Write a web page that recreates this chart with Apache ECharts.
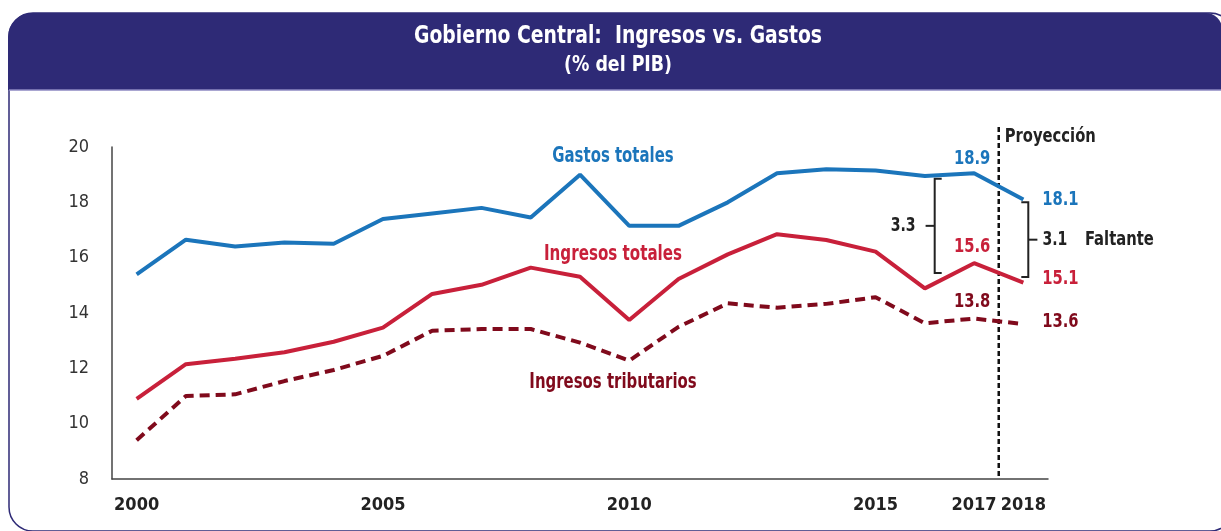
<!DOCTYPE html>
<html>
<head>
<meta charset="utf-8">
<style>
    html, body{
        margin: 0;
        padding: 0;
        background: #fff;
    }
    #chart{
        width: 1221px;
        height: 531px;
    }
</style>
<script src="https://cdn.jsdelivr.net/npm/echarts@6/dist/echarts.min.js"></script>
</head>
<body>
<div id="chart"></div>
<script>
    //数据
    var years = ['2000','2001','2002','2003','2004','2005','2006','2007','2008','2009',
                 '2010','2011','2012','2013','2014','2015','2016','2017','2018'];
    var shownYears = ['2000','2005','2010','2015','2017','2018'];
    var gastos = [15.4, 16.65, 16.4, 16.55, 16.5, 17.4, 17.6, 17.8, 17.45, 19.0,
                  17.15, 17.15, 18.0, 19.05, 19.2, 19.15, 18.95, 19.05, 18.1];
    var ingresos = [10.9, 12.15, 12.35, 12.58, 12.96, 13.47, 14.69, 15.02, 15.64, 15.31,
                    13.75, 15.23, 16.12, 16.85, 16.64, 16.22, 14.89, 15.8, 15.1];
    var tributarios = [9.4, 11.0, 11.06, 11.54, 11.94, 12.45, 13.36, 13.42, 13.42, 12.93,
                       12.28, 13.5, 14.35, 14.19, 14.33, 14.57, 13.63, 13.8, 13.6];
    // etiquetas 2017 / 2018
    var gastosLabels = ['18.9', '18.1'];
    var ingresosLabels = ['15.6', '15.1'];
    var tributariosLabels = ['13.8', '13.6'];
    // brechas: [indice, arriba, abajo, texto]
    var gapLeft = [16.2, 18.85, 15.45, '3.3'];
    var gapRight = [18.1, 18.0, 15.3, '3.1'];

    var blue = '#1B75BB';
    var red = '#C8203A';
    var darkRed = '#800A1C';
    var navy = '#2E2A76';
    var font = '"DejaVu Sans Condensed", "DejaVu Sans", sans-serif';

    var mychart = echarts.init(document.getElementById('chart'), null, {renderer: 'canvas'});
    var option = {
        backgroundColor: '#fff',
        animation: false,
        grid: {left: 112, right: 173, top: 147, bottom: 52},
        xAxis: {
            type: 'category',
            data: years,
            boundaryGap: true,
            axisLine: {lineStyle: {color: '#444', width: 1.5}},
            axisTick: {show: false},
            axisLabel: {
                interval: 0,
                margin: 17,
                fontFamily: font, fontWeight: 'bold', fontSize: 18, color: '#222',
                formatter: function (v) {
                    return shownYears.indexOf(v) >= 0 ? v : '';
                }
            }
        },
        yAxis: {
            type: 'value',
            min: 8, max: 20, interval: 2,
            axisLine: {show: true, lineStyle: {color: '#444', width: 1.5}},
            axisTick: {show: false},
            splitLine: {show: false},
            axisLabel: {margin: 23, fontFamily: font, fontSize: 18, color: '#333'}
        },
        series: [
            {
                name: 'Gastos totales', type: 'line', symbol: 'none',
                data: gastos,
                lineStyle: {color: blue, width: 4}
            },
            {
                name: 'Ingresos totales', type: 'line', symbol: 'none',
                data: ingresos,
                lineStyle: {color: red, width: 4}
            },
            {
                name: 'Ingresos tributarios', type: 'line', symbol: 'none',
                data: tributarios,
                lineStyle: {color: darkRed, width: 4, type: [10, 6]}
            }
        ]
    };
    mychart.setOption(option);

    //像素位置
    function px(idx, val) {
        var a = mychart.convertToPixel({gridIndex: 0}, [0, val]);
        var b = mychart.convertToPixel({gridIndex: 0}, [1, val]);
        return [a[0] + (b[0] - a[0]) * idx, a[1]];
    }
    function txt(x, y, text, color, size, sx, align) {
        return {
            type: 'text', x: x, y: y, scaleX: sx,
            style: {text: text, fill: color, font: 'bold ' + size + 'px ' + font,
                align: align || 'center', verticalAlign: 'middle'}
        };
    }
    function bracket(g, side) {
        var top = px(g[0], g[1]), bot = px(g[0], g[2]);
        var x = top[0], mid = (top[1] + bot[1]) / 2;
        var d = side === 'left' ? 7 : -7;
        var s = {stroke: '#222', lineWidth: 2, fill: 'none'};
        return [
            {type: 'polyline', shape: {points: [[x + d, top[1]], [x, top[1]], [x, bot[1]], [x + d, bot[1]]]}, style: s},
            {type: 'line', shape: {x1: x, y1: mid, x2: x - d * 1.3, y2: mid}, style: s},
            side === 'left'
                ? txt(x - d * 1.3 - 10, mid, g[3], '#222', 20, 0.78, 'right')
                : txt(x - d * 1.3 + 5, mid, g[3], '#222', 20, 0.78, 'left')
        ];
    }
    // etiquetas de valores 2017 (arriba) y 2018 (derecha)
    function endLabels(arr, labels, color, dy17, dy18) {
        var n = arr.length;
        var p17 = px(n - 2, arr[n - 2]), p18 = px(n - 1, arr[n - 1]);
        return [
            txt(p17[0] - 2, p17[1] + dy17, labels[0], color, 20, 0.82),
            txt(p18[0] + 37, p18[1] + dy18, labels[1], color, 20, 0.82)
        ];
    }

    var axisBottom = px(0, 8)[1];
    var projX = px(17.5, 8)[0];
    var gTop = px(0, 20)[1];
    var gapMid = px(0, (gapRight[1] + gapRight[2]) / 2)[1];
    var graphics = [
        // tarjeta
        {type: 'rect', z: -10, shape: {x: 9, y: 13, width: 1225, height: 518, r: 24},
            style: {fill: 'none', stroke: navy, lineWidth: 1.5}},
        {type: 'rect', z: -5, shape: {x: 8, y: 13, width: 1214, height: 77, r: [24, 16, 0, 0]},
            style: {fill: navy}},
        {type: 'line', z: -5, shape: {x1: 9, y1: 90, x2: 1221, y2: 90},
            style: {stroke: '#8C89C2', lineWidth: 1.5}},
        txt(618, 37, 'Gobierno Central:  Ingresos vs. Gastos', '#fff', 24, 0.87),
        txt(618, 66, '(% del PIB)', '#fff', 21, 0.92),
        // proyeccion
        {type: 'line', shape: {x1: projX, y1: gTop - 20, x2: projX, y2: axisBottom},
            style: {stroke: '#111', lineWidth: 2.5, lineDash: [5, 3]}},
        txt(projX + 6, 137, 'Proyección', '#222', 20, 0.82, 'left'),
        // nombres de series
        txt(613, 157, 'Gastos totales', blue, 21, 0.79),
        txt(613, 255, 'Ingresos totales', red, 21, 0.8),
        txt(613, 383, 'Ingresos tributarios', darkRed, 21, 0.79),
        txt(1085, gapMid, 'Faltante', '#222', 20, 0.82, 'left')
    ];
    graphics = graphics.concat(
        bracket(gapLeft, 'left'), bracket(gapRight, 'right'),
        endLabels(gastos, gastosLabels, blue, -14, 0),
        endLabels(ingresos, ingresosLabels, red, -16, -4),
        endLabels(tributarios, tributariosLabels, darkRed, -17, -2)
    );
    mychart.setOption({graphic: graphics});
</script>
</body>
</html>
